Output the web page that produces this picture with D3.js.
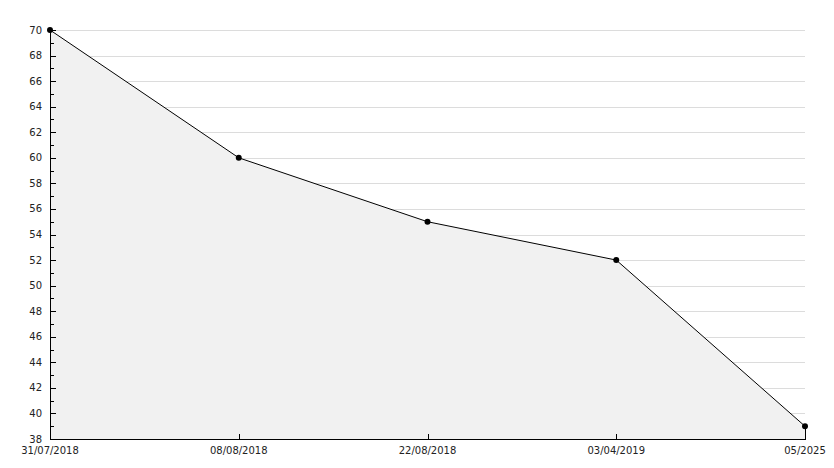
<!DOCTYPE html>
<html><head><meta charset="utf-8">
<script src="https://cdn.jsdelivr.net/npm/d3@7"></script>
<style>body{margin:0;background:#fff}svg{display:block}text{font-family:"DejaVu Sans",sans-serif;font-size:10px;fill:#222}</style>
</head><body>
<svg id="c" width="834" height="468"></svg>
<script>
const categories = ["31/07/2018","08/08/2018","22/08/2018","03/04/2019","05/2025"];
const values = [70, 60, 55, 52, 39];
const yMin = 38, yMax = 70;
const yMajorTicks = d3.range(38, 71, 2);
const yMinorTicks = d3.range(39, 70, 2);

const svg = d3.select("#c");
const L = 50, R = 805, T = 30, B = 439;
const x = d3.scalePoint().domain(categories).range([L, R]);
const y = d3.scaleLinear().domain([yMin, yMax]).range([B, T]);

// grid
svg.append("g").selectAll("line").data(yMajorTicks.filter(d => d > yMin)).join("line")
  .attr("x1", L).attr("x2", R)
  .attr("y1", d => Math.round(y(d)) + 0.5).attr("y2", d => Math.round(y(d)) + 0.5)
  .attr("stroke", "#dcdcdc").attr("stroke-width", 1);

const pts = categories.map((c, i) => [x(c), y(values[i])]);
// area
const area = d3.area().x(d => d[0]).y0(y(yMin)).y1(d => d[1]);
svg.append("path").datum(pts).attr("d", area).attr("fill", "#f1f1f1");
// right edge
svg.append("line").attr("x1", x(categories[4]) + 0.5).attr("x2", x(categories[4]) + 0.5)
  .attr("y1", y(values[4])).attr("y2", B).attr("stroke", "#000");
// line
svg.append("path").datum(pts).attr("d", d3.line()).attr("fill", "none").attr("stroke", "#000").attr("stroke-width", 1);

// axes
const ax = svg.append("g").attr("shape-rendering", "crispEdges");
ax.append("line").attr("x1", L + 0.5).attr("x2", L + 0.5).attr("y1", T).attr("y2", B + 0.5).attr("stroke", "#000");
ax.append("line").attr("x1", L).attr("x2", R + 1).attr("y1", B + 0.5).attr("y2", B + 0.5).attr("stroke", "#000");
ax.selectAll(".maj").data(yMajorTicks).join("line").attr("class", "maj")
  .attr("x1", L).attr("x2", L + 6)
  .attr("y1", d => Math.round(y(d)) + 0.5).attr("y2", d => Math.round(y(d)) + 0.5).attr("stroke", "#000");
ax.selectAll(".min").data(yMinorTicks).join("line").attr("class", "min")
  .attr("x1", L).attr("x2", L + 4)
  .attr("y1", d => Math.round(y(d)) + 0.5).attr("y2", d => Math.round(y(d)) + 0.5).attr("stroke", "#000");
ax.selectAll(".xt").data(categories.slice(1, 4)).join("line").attr("class", "xt")
  .attr("x1", d => Math.round(x(d)) + 0.5).attr("x2", d => Math.round(x(d)) + 0.5)
  .attr("y1", B - 5).attr("y2", B).attr("stroke", "#000");

svg.append("g").selectAll("text").data(yMajorTicks).join("text")
  .attr("x", L - 8).attr("y", d => y(d)).attr("dy", "0.35em").attr("text-anchor", "end").text(d => d);
svg.append("g").selectAll("text").data(categories).join("text")
  .attr("x", d => x(d)).attr("y", B + 15).attr("text-anchor", "middle").text(d => d);

// markers
svg.append("g").selectAll("path").data(pts).join("path")
  .attr("transform", d => `translate(${d[0]},${d[1]})`)
  .attr("d", d3.symbol(d3.symbolCircle, 28)).attr("fill", "#000");
</script>
</body></html>
